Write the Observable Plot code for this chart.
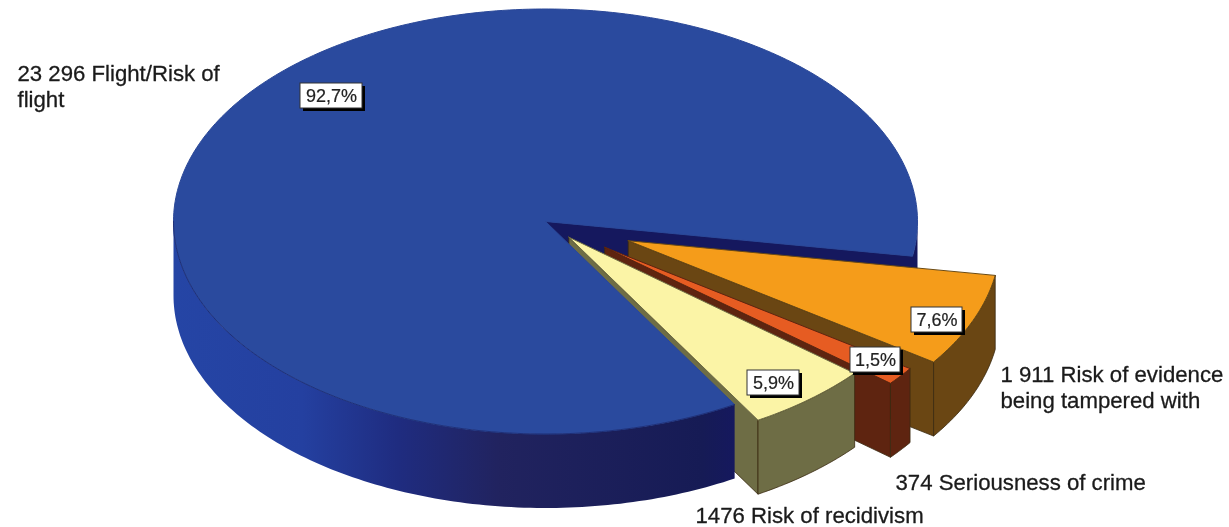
<!DOCTYPE html>
<html>
<head>
<meta charset="utf-8">
<script src="https://cdn.jsdelivr.net/npm/d3@7"></script>
<script src="https://cdn.jsdelivr.net/npm/@observablehq/plot@0.6"></script>
<style>html,body{margin:0;padding:0;background:#fff}svg{display:block}</style>
</head>
<body>
<div id="chart"></div>
<script>
// Data
const categories = ["Flight/Risk of flight", "Risk of evidence being tampered with", "Seriousness of crime", "Risk of recidivism"];
const counts = [23296, 1911, 374, 1476];
const percentLabels = ["92,7%", "7,6%", "1,5%", "5,9%"];
const sliceLabels = ["23 296 Flight/Risk of\nflight", "1 911 Risk of evidence\nbeing tampered with", "374 Seriousness of crime", "1476 Risk of recidivism"];

// Style and layout
const topColors = ["#2a4a9e", "#f59c1a", "#e65c22", "#fbf4a6"];
const sideColors = ["url(#blueSide)", "#6a4613", "#5e2410", "#6e6d45"];
const wallColors = ["#15185e", "#6a4613", "#5e2410", "#6e6d45"];
const edgeColors = ["#2a4898", "#6a4a14", "#5e2410", "#6e6d45"];
const explode = [0, 0.24, 0.2, 0.097];
const labelX = [17, 1000, 895, 695];
const labelY = [85, 386, 481, 514];
const boxX = [331, 936.5, 875, 773];
const boxY = [95.5, 319.5, 359.5, 382.5];
const boxW = [62, 51, 50, 52];
const boxH = [25, 25, 25, 25];

const cx = 545, cy = 221, rx = 372, ry = 212.5, depth = 74;
const startDeg = 9.4;
const total = d3.sum(counts);
const rad = d => d * Math.PI / 180;

// Angular extents of slices, clockwise from the end of the blue slice
const order = [1, 2, 3, 0];
let acc = startDeg;
const extent = [];
for (const i of order) { const sweep = counts[i] / total * 360; extent[i] = [acc, acc + sweep]; acc += sweep; }

const Pt = (i, t, drop = 0) => {
  const mid = rad((extent[i][0] + extent[i][1]) / 2);
  const ox = explode[i] * rx * Math.cos(mid), oy = explode[i] * ry * Math.sin(mid);
  return [cx + ox + (t === null ? 0 : rx * Math.cos(rad(t))), cy + oy + drop + (t === null ? 0 : ry * Math.sin(rad(t)))];
};
const arc = (i, a, b, drop = 0) => {
  const n = Math.max(2, Math.ceil(Math.abs(b - a)));
  return d3.range(n + 1).map(k => Pt(i, a + (b - a) * k / n, drop));
};
const poly = (pts, fill, stroke, strokeWidth = 1) =>
  Plot.line([...pts, pts[0]], {x: d => d[0], y: d => d[1], fill, stroke, strokeWidth, curve: "linear"});

const wall = i => {
  const b = i === 0 ? extent[i][1] - 360 : extent[i][1];
  const w = [Pt(i, null), Pt(i, b), Pt(i, b, depth), Pt(i, null, depth)];
  return poly(w, wallColors[i], i === 0 ? wallColors[i] : "#3a2a10", i === 0 ? 1 : 0.8);
};
const rim = (i, l, h) => poly([...arc(i, l, h), ...arc(i, h, l, depth)], sideColors[i], i === 0 ? "none" : "#3a2a10", 0.8);
const face = i => poly([Pt(i, null), ...arc(i, extent[i][0], extent[i][1])], topColors[i], edgeColors[i], 1);
const frontEdge = () => Plot.line(arc(0, extent[0][0], 180), {x: d => d[0], y: d => d[1], stroke: "#1c2a70", strokeWidth: 0.8});

const blueGradient = () => {
  const defs = d3.create("svg:defs");
  const g = defs.append("linearGradient").attr("id", "blueSide").attr("gradientUnits", "userSpaceOnUse")
    .attr("x1", 172).attr("x2", 735).attr("y1", 0).attr("y2", 0);
  [[0, "#2545a5"], [0.23, "#2440a0"], [0.4, "#1f2c80"], [0.58, "#21235f"], [0.94, "#161b55"], [1, "#15185e"]].forEach(([o, c]) =>
    g.append("stop").attr("offset", o).attr("stop-color", c));
  return defs.node();
};

const boxes = counts.map((_, i) => ({label: percentLabels[i], x: boxX[i], y: boxY[i], w: boxW[i], h: boxH[i]}));
const labels = sliceLabels.map((text, i) => ({text, x: labelX[i], y: labelY[i]}));

const chart = Plot.plot({
  width: 1229, height: 527,
  marginTop: 0, marginRight: 0, marginBottom: 0, marginLeft: 0,
  x: {type: "identity", axis: null},
  y: {type: "identity", axis: null},
  style: {background: "#fff", filter: "blur(0.5px)"},
  marks: [
    blueGradient,
    // back of the big slice: its cut face and the sliver of rim beside it
    wall(0),
    rim(0, 0, extent[0][1] - 360),
    // the slices pulled out, back to front
    wall(1), rim(1, extent[1][0], extent[1][1]), face(1),
    wall(2), rim(2, extent[2][0], extent[2][1]), face(2),
    wall(3),
    // the body of the big slice hides the inner part of the yellow slice's face
    rim(0, extent[0][0], 180),
    face(0),
    frontEdge(),
    rim(3, extent[3][0], extent[3][1]), face(3),
    Plot.rect(boxes, {x1: d => d.x - d.w / 2 + 3, x2: d => d.x + d.w / 2 + 3, y1: d => d.y - d.h / 2 + 3, y2: d => d.y + d.h / 2 + 3, fill: "#000"}),
    Plot.rect(boxes, {x1: d => d.x - d.w / 2, x2: d => d.x + d.w / 2, y1: d => d.y - d.h / 2, y2: d => d.y + d.h / 2, fill: "#fff", stroke: "#333", strokeWidth: 1}),
    Plot.text(boxes, {x: "x", y: "y", text: "label", fontSize: 18, fontFamily: "Liberation Sans", fill: "#222", stroke: "#222", strokeWidth: 0.2}),
    Plot.text(labels, {x: "x", y: "y", text: "text", textAnchor: "start", lineAnchor: "middle", lineHeight: 1.2, fontSize: 22.2, fontFamily: "Liberation Sans", fill: "#1a1a1a", stroke: "#1a1a1a", strokeWidth: 0.3})
  ]
});
document.getElementById("chart").append(chart);
</script>
</body>
</html>
